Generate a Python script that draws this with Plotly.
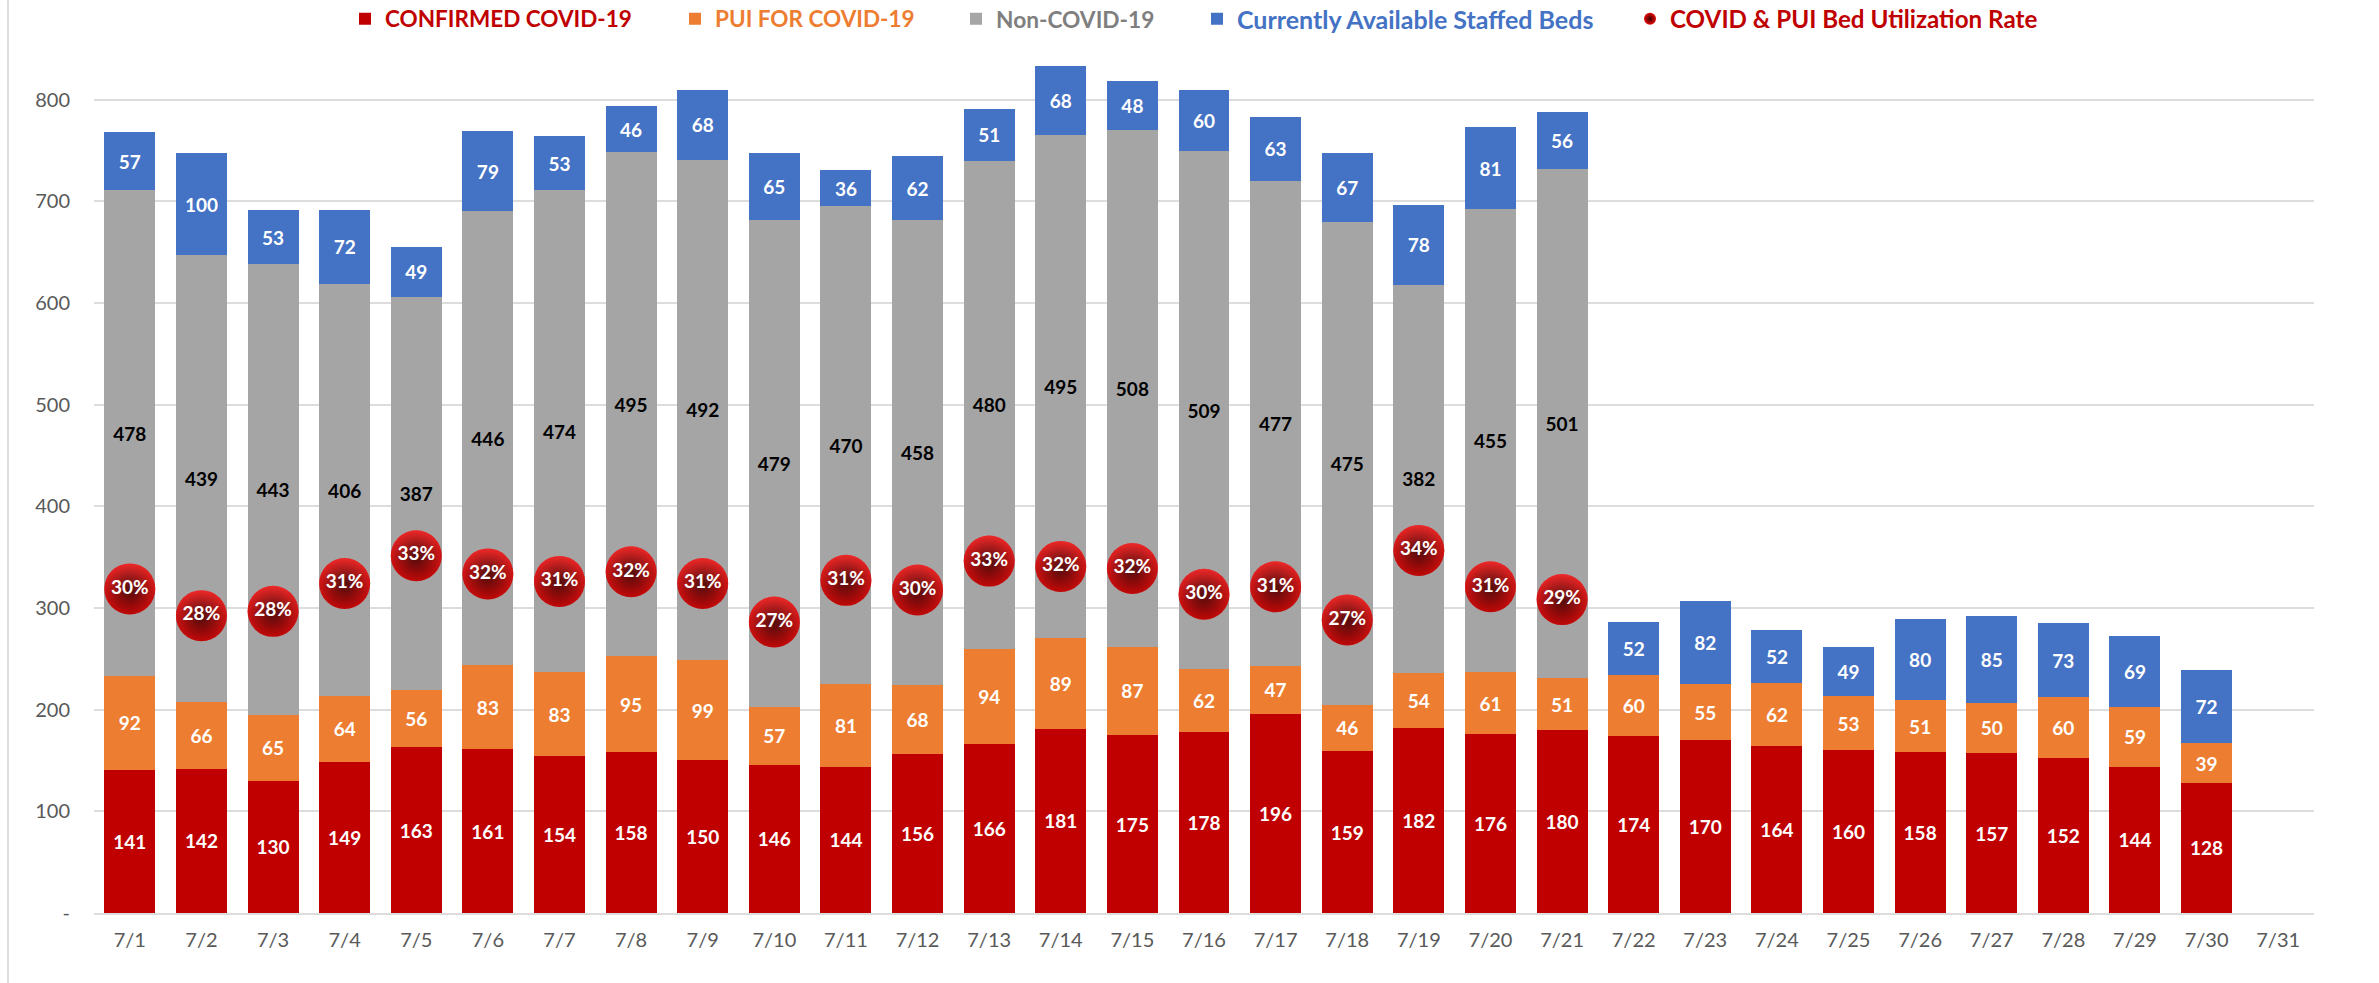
import plotly.graph_objects as go

dates = [f"7/{d}" for d in range(1, 32)]
confirmed = [141,142,130,149,163,161,154,158,150,146,144,156,166,181,175,178,196,159,182,176,180,174,170,164,160,158,157,152,144,128,None]
pui = [92,66,65,64,56,83,83,95,99,57,81,68,94,89,87,62,47,46,54,61,51,60,55,62,53,51,50,60,59,39,None]
non_covid = [478,439,443,406,387,446,474,495,492,479,470,458,480,495,508,509,477,475,382,455,501]+[None]*10
available = [57,100,53,72,49,79,53,46,68,65,36,62,51,68,48,60,63,67,78,81,56,52,82,52,49,80,85,73,69,72,None]
rate = [.303,.278,.282,.308,.334,.317,.310,.319,.308,.272,.311,.302,.329,.324,.322,.298,.305,.274,.339,.305,.293]
rate_labels = ["30%","28%","28%","31%","33%","32%","31%","32%","31%","27%","31%","30%","33%","32%","32%","30%","31%","27%","34%","31%","29%"]
y_ticks = [0,100,200,300,400,500,600,700,800]
y_tick_labels = ["-","100","200","300","400","500","600","700","800"]

W, H = 2379, 983
L, R, T, B = 94, 2314, 48, 913
PW, PH = R-L, B-T
FONT = "Lato"
YMAX = 850.7
RATE_MAX = YMAX/1052

def lx(px): return (px-L)/PW
def ly(py): return (B-py)/PH

fig = go.Figure()
series = [("CONFIRMED COVID-19", confirmed, "#C00000", "white", "legend", 345, "#C00000", 22.5),
          ("PUI FOR COVID-19", pui, "#ED7D31", "white", "legend2", 675, "#ED7D31", 22.5),
          ("Non-COVID-19", non_covid, "#A5A5A5", "black", "legend3", 956, "#7F7F7F", 22.7),
          ("Currently Available Staffed Beds", available, "#4472C4", "white", "legend4", 1197, "#4472C4", 25)]
for name, vals, col, tc, leg, _, _c, _s in series:
    fig.add_trace(go.Bar(x=dates, y=vals, name=name, marker=dict(color=col, line=dict(width=0)),
        text=vals, textposition="inside", insidetextanchor="middle", textangle=0, constraintext="none",
        textfont=dict(family=FONT, size=19, color=tc, weight="bold"), legend=leg, cliponaxis=False))

x_rate = dates[:21]
fig.add_trace(go.Scatter(x=x_rate, y=rate, yaxis="y2", mode="markers", name="COVID & PUI Bed Utilization Rate",
    marker=dict(size=51, color="#E80A0A", gradient=dict(type="radial", color="#3A0000"), line=dict(width=0)),
    legend="legend5", hoverinfo="skip"))
fig.add_trace(go.Scatter(x=x_rate, y=rate, yaxis="y2", mode="markers+text", showlegend=False,
    text=rate_labels, textposition="middle center",
    textfont=dict(family=FONT, size=19, color="white", weight="bold"),
    marker=dict(size=51, color="rgba(255,110,110,0.3)", gradient=dict(type="vertical", color="rgba(40,0,0,0.2)"), line=dict(width=0))))

layout_legends = {}
for name, vals, col, tc, leg, px, c, s in series:
    layout_legends[leg] = dict(x=lx(px), y=ly(19), xanchor="left", yanchor="middle", orientation="h",
        font=dict(family=FONT, size=s, color=c, weight="bold"), bgcolor="rgba(0,0,0,0)", itemclick=False, itemdoubleclick=False)
layout_legends["legend5"] = dict(x=lx(1630), y=ly(19), xanchor="left", yanchor="middle", orientation="h", itemsizing="constant",
        font=dict(family=FONT, size=24.2, color="#C00000", weight="bold"), bgcolor="rgba(0,0,0,0)")

fig.update_layout(width=W, height=H, margin=dict(l=L, r=W-R, t=T, b=H-B, autoexpand=False), autosize=False,
    paper_bgcolor="white", plot_bgcolor="white", barmode="stack", bargap=0.288, **layout_legends,
    font=dict(family=FONT),
    xaxis=dict(type="category", categoryorder="array", categoryarray=dates, range=[-0.5, 30.5], showgrid=False, showline=True, linecolor="#DDDDDD", linewidth=2,
        ticks="", ticklen=0, tickfont=dict(family=FONT, size=20, color="#595959"), tickangle=0, automargin=False, ticklabelstandoff=8),
    yaxis=dict(range=[0, YMAX], tickvals=y_ticks, ticktext=y_tick_labels, showgrid=True, gridcolor="#DDDDDD", gridwidth=2, zeroline=False,
        ticks="", tickfont=dict(family=FONT, size=20, color="#595959"), automargin=False, ticklabelstandoff=23),
    yaxis2=dict(range=[0, RATE_MAX], overlaying="y", side="right", visible=False),
    shapes=[dict(type="line", xref="paper", yref="paper", x0=lx(8), x1=lx(8), y0=ly(983), y1=ly(0), line=dict(color="#DDDDDD", width=2))],
)
fig.write_html("out.html", config={"displayModeBar": False}, post_script="document.body.style.margin='0';")
